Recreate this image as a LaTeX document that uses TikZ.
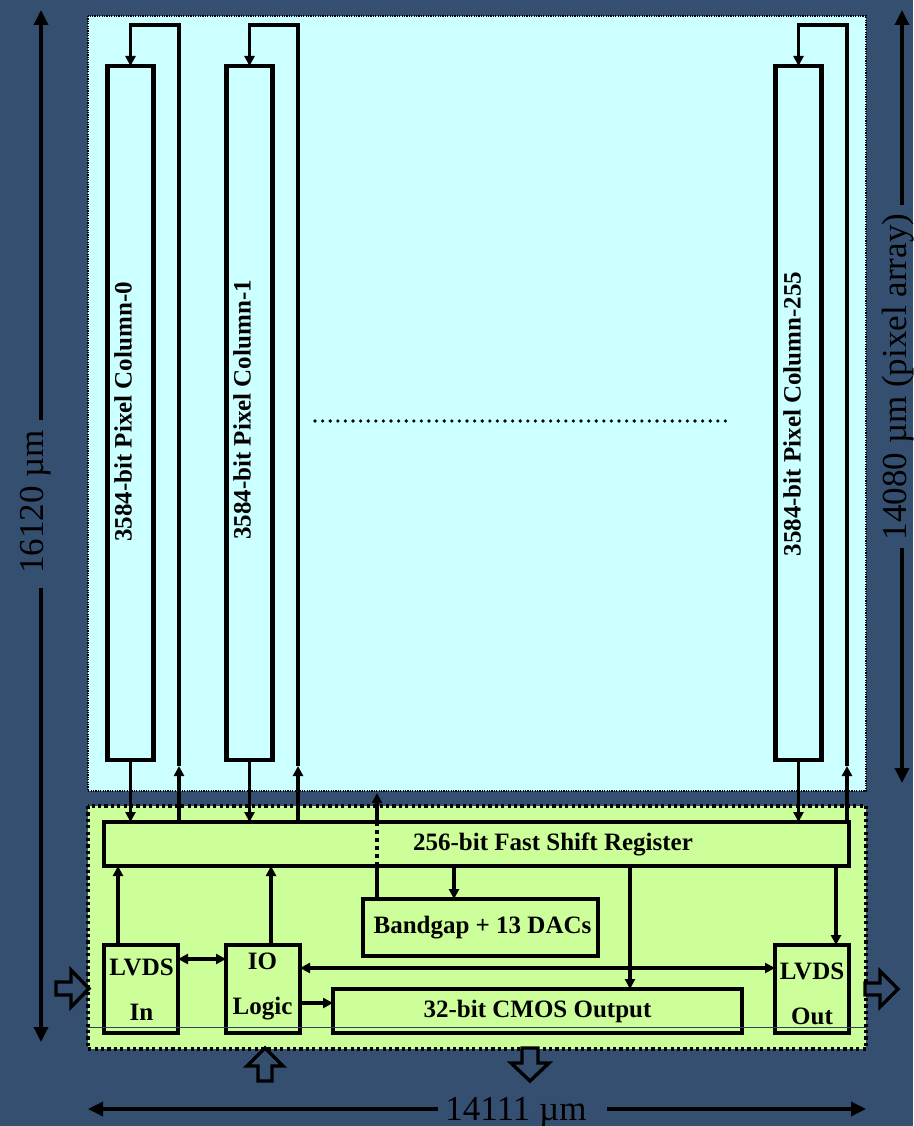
\documentclass[tikz,border=0pt]{standalone}
\usepackage{fontspec}
\setmainfont{Liberation Serif}
\usetikzlibrary{arrows.meta}
\definecolor{bgblue}{RGB}{52,79,111}
\definecolor{pixcyan}{RGB}{204,255,255}
\definecolor{perigreen}{RGB}{204,255,153}
\begin{document}
\begin{tikzpicture}[x=1pt,y=-1pt,
  box/.style={draw=black, line width=4.2pt, inner sep=0pt, outer sep=0pt},
  conn/.style={line width=3.6pt, -{Triangle[length=10pt,width=10pt]}},
  twoway/.style={line width=3.6pt, {Triangle[length=10pt,width=10pt]}-{Triangle[length=10pt,width=10pt]}},
  plainln/.style={line width=3.6pt},
  lbl/.style={font=\fontsize{25}{45}\selectfont\bfseries, inner sep=0pt, align=center},
  dimln/.style={line width=3.4pt, -{Triangle[length=15pt,width=14pt]}},
  dimtxt/.style={font=\fontsize{35}{40}\selectfont, inner sep=0pt},
  hollow/.style={draw=black, line width=3.4pt, fill=bgblue, line join=miter}
]
\useasboundingbox (0,0) rectangle (913,1126);
\fill[bgblue] (0,0) rectangle (913,1126);

% regions
\path[fill=pixcyan] (88,16) rectangle (866,791);
\draw[line width=1.2pt, dash pattern=on 1.2pt off 1.2pt] (88,16) rectangle (866,791);
\path[fill=perigreen] (88,806) rectangle (866,1049);
\draw[line width=3.2pt, dash pattern=on 3.2pt off 3.2pt] (88,806) rectangle (866,1049);

% pixel columns
\node[box, fill=pixcyan, minimum width=46pt, minimum height=694pt] (c0) at (130.5,413) {};
\node[box, fill=pixcyan, minimum width=46pt, minimum height=694pt] (c1) at (249.5,413) {};
\node[box, fill=pixcyan, minimum width=46pt, minimum height=694pt] (c255) at (798.5,413) {};
\node[lbl, rotate=90] (t0) at (123,412) {3584-bit Pixel Column-0};
\node[lbl, rotate=90] (t1) at (242,410) {3584-bit Pixel Column-1};
\node[lbl, rotate=90] (t255) at (792,414) {3584-bit Pixel Column-255};
\draw[line width=3.6pt, line cap=round, dash pattern=on 0pt off 7.6pt] (315,421) -- (730,421);

% periphery blocks
\node[box, fill=perigreen, minimum width=745pt, minimum height=44pt] (sr) at (476.5,844) {};
\node[lbl] (srt) at (553,844) {256-bit Fast Shift Register};
\node[box, fill=perigreen, minimum width=235pt, minimum height=57pt] (bg) at (480.5,927.5) {};
\node[lbl] (bgt) at (482.5,927.5) {Bandgap + 13 DACs};
\node[box, fill=perigreen, minimum width=74pt, minimum height=88pt] (li) at (141,989) {};
\node[lbl] (lit) at (141.5,990) {LVDS\\In};
\node[box, fill=perigreen, minimum width=74pt, minimum height=88pt] (io) at (263,989) {};
\node[lbl] (iot) at (262.5,986) {IO\\Logic};
\node[box, fill=perigreen, minimum width=74pt, minimum height=88pt] (lo) at (812,989) {};
\node[lbl] (lot) at (812,994) {LVDS\\Out};
\node[box, fill=perigreen, minimum width=409pt, minimum height=44pt] (cm) at (537.5,1011) {};
\node[lbl] (cmt) at (537.5,1011) {32-bit CMOS Output};

% helper coordinates
\coordinate (u0) at (179,766);   \coordinate (k0) at (179,25);
\coordinate (u1) at (298,766);   \coordinate (k1) at (298,25);
\coordinate (u255) at (847,766); \coordinate (k255) at (847,25);
\coordinate (bgup) at (377,793);
\coordinate (xbg) at (454,0);
\coordinate (xcm) at (630,0);
\coordinate (xlo) at (836,0);
\coordinate (xli) at (118,0);
\coordinate (xio) at (271,0);
\coordinate (ya) at (0,959);
\coordinate (yb) at (0,968);
\coordinate (yc) at (0,1003);

% column to shift register
\draw[conn] (c0.south) -- (c0.south |- sr.north);
\draw[conn] (c1.south) -- (c1.south |- sr.north);
\draw[conn] (c255.south) -- (c255.south |- sr.north);
% feedback loops
\draw[conn] (sr.north -| u0) -- (u0);
\draw[conn] (u0) -- (k0) -| (c0.north);
\draw[conn] (sr.north -| u1) -- (u1);
\draw[conn] (u1) -- (k1) -| (c1.north);
\draw[conn] (sr.north -| u255) -- (u255);
\draw[conn] (u255) -- (k255) -| (c255.north);

% bandgap line through shift register
\draw[plainln] (bg.north -| bgup) -- (sr.south -| bgup);
\draw[line width=3.6pt, dash pattern=on 4pt off 4pt] (sr.south -| bgup) -- (sr.north -| bgup);
\draw[conn] (sr.north -| bgup) -- (bgup);

% shift register outputs/inputs
\draw[conn] (sr.south -| xbg) -- (bg.north -| xbg);
\draw[conn] (sr.south -| xcm) -- (cm.north -| xcm);
\draw[conn] (sr.south -| xlo) -- (lo.north -| xlo);
\draw[conn] (li.north -| xli) -- (sr.south -| xli);
\draw[conn] (io.north -| xio) -- (sr.south -| xio);

% horizontal links
\draw[twoway] (li.east |- ya) -- (io.west |- ya);
\draw[twoway] (io.east |- yb) -- (lo.west |- yb);
\draw[conn] (io.east |- yc) -- (cm.west |- yc);

% thin line
\draw[line width=0.8pt, bgblue!85!black] (88,1027) -- (866,1027);

% hollow I/O arrows
\draw[hollow] (56,982) -- (71,982) -- (71,970) -- (89,988.5) -- (71,1007) -- (71,995) -- (56,995) -- cycle;
\draw[hollow] (865,983) -- (880,983) -- (880,971) -- (898,989) -- (880,1007) -- (880,995) -- (865,995) -- cycle;
\draw[hollow] (265,1048) -- (283,1066) -- (272,1066) -- (272,1081) -- (258,1081) -- (258,1066) -- (247,1066) -- cycle;
\draw[hollow] (530,1081) -- (549,1063) -- (538,1063) -- (538,1048) -- (522,1048) -- (522,1063) -- (511,1063) -- cycle;

% dimensions
\node[dimtxt, rotate=90, anchor=base] (dl) at (43,502) {16120 µm};
\coordinate (lt) at (41,10);  \coordinate (lb) at (41,1042);
\coordinate (lg1) at (41,420); \coordinate (lg2) at (41,588);
\draw[dimln] (lg1) -- (lt);
\draw[dimln] (lg2) -- (lb);

\node[dimtxt, rotate=90, anchor=base] (dr) at (906,377) {14080 µm (pixel array)};
\coordinate (rt) at (902,10);  \coordinate (rb) at (902,783);
\coordinate (rg1) at (902,205); \coordinate (rg2) at (902,548);
\draw[dimln] (rg1) -- (rt);
\draw[dimln] (rg2) -- (rb);

\node[dimtxt, anchor=base] (db) at (516,1120) {14111 µm};
\coordinate (bl) at (88,1109);  \coordinate (br) at (866,1109);
\coordinate (bg1) at (438,1109); \coordinate (bg2) at (607,1109);
\draw[dimln] (bg1) -- (bl);
\draw[dimln] (bg2) -- (br);
\end{tikzpicture}
\end{document}
